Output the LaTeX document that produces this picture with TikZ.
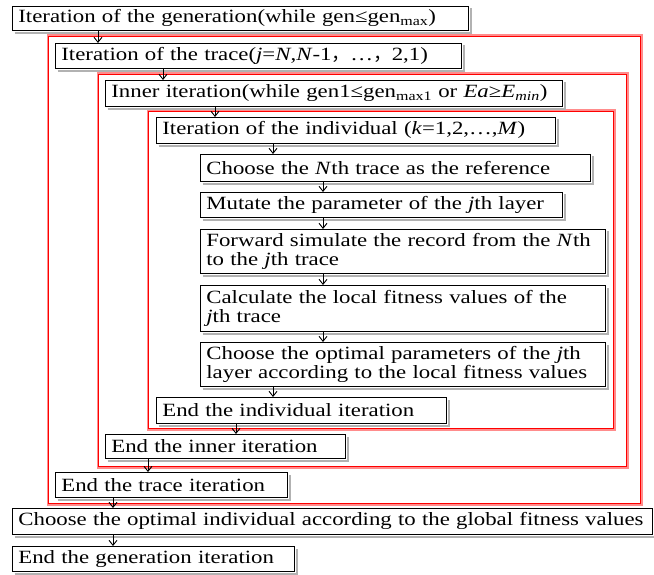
\documentclass[tikz,border=0pt]{standalone}
\usepackage{fontspec}
\setmainfont{Liberation Serif}[FakeStretch=1.22]
\newfontfamily\cjk{Noto Sans CJK SC}
\usetikzlibrary{arrows.meta}
\begin{document}
\begin{tikzpicture}[x=1pt,y=-1pt,
 box/.style={draw=black, line width=0.8pt, fill=white, anchor=north west,
   inner xsep=6pt, inner ysep=0pt, align=left,
   font=\fontsize{18.7}{18.7}\selectfont},
 shadowline/.style={draw=gray!60, line width=1.8pt},
 arr/.style={-{Straight Barb[length=5pt,width=8pt]}, line width=0.9pt},
 frameR/.style={draw=red, line width=1pt},
 frameP/.style={draw=red!45, line width=1.5pt}]
\useasboundingbox (0,0) rectangle (654,575);

% red frames
\draw[frameP] (48,35) rectangle (642,505);
\draw[frameR] (48,37) rectangle (640,503);
\draw[frameP] (98,73) rectangle (628,468);
\draw[frameR] (98,75) rectangle (626,466);
\draw[frameP] (148,110) rectangle (615,430);
\draw[frameR] (148,112) rectangle (613,428);

% boxes
\node[box, text width=444pt, minimum height=24pt] (b1) at (12,6)
  {Iteration of the generation(while gen≤gen\textsubscript{max})};
\node[box, text width=394pt, minimum height=25pt] (b2) at (55,43)
  {Iteration of the trace(\textit{j}=\textit{N},\textit{N}-1{\cjk ，}…{\cjk ，}2,1)};
\node[box, text width=445pt, minimum height=26pt] (b3) at (105,80)
  {Inner iteration(while gen1≤gen\textsubscript{max1} or \textit{Ea}≥\textit{E}\textsubscript{\textit{min}})};
\node[box, text width=387pt, minimum height=26pt] (b4) at (156,117)
  {Iteration of the individual (\textit{k}=1,2,…,\textit{M})};
\node[box, text width=378pt, minimum height=27pt] (b5) at (200,154)
  {Choose the \textit{N}th trace as the reference};
\node[box, text width=350pt, minimum height=25pt] (b6) at (200,192)
  {Mutate the parameter of the \textit{j}th layer};
\node[box, text width=393pt, minimum height=44pt] (b7) at (200,229)
  {Forward simulate the record from the \textit{N}th\\to the \textit{j}th trace};
\node[box, text width=393pt, minimum height=46pt] (b8) at (200,285)
  {Calculate the local fitness values of the\\\textit{j}th trace};
\node[box, text width=393pt, minimum height=44pt] (b9) at (200,342)
  {Choose the optimal parameters of the \textit{j}th\\layer according to the local fitness values};
\node[box, text width=278pt, minimum height=26pt] (b10) at (156,397)
  {End the individual iteration};
\node[box, text width=228pt, minimum height=24pt] (b11) at (105,434)
  {End the inner iteration};
\node[box, text width=220pt, minimum height=25pt] (b12) at (55,472)
  {End the trace iteration};
\node[box, text width=628pt, minimum height=26pt] (b13) at (12,508)
  {\mbox{Choose the optimal individual according to the global fitness values}};
\node[box, text width=270pt, minimum height=25pt] (b14) at (12,546)
  {End the generation iteration};

% box shadows
\foreach \n in {b1,b2,b3,b4,b5,b6,b7,b8,b9,b10,b11,b12,b13,b14}
  \draw[shadowline] ([xshift=2.5pt,yshift=-2.2pt]\n.south west)
     -- ([xshift=2.2pt,yshift=-2.2pt]\n.south east)
     -- ([xshift=2.2pt,yshift=-2.5pt]\n.north east);

% connectors
\draw[arr] ([xshift=86pt]b1.south west) -- ([xshift=86pt]b1.south west |- b2.north);
\draw[arr] ([xshift=108pt]b2.south west) -- ([xshift=108pt]b2.south west |- b3.north);
\draw[arr] ([xshift=110pt]b3.south west) -- ([xshift=110pt]b3.south west |- b4.north);
\draw[arr] ([xshift=117pt]b4.south west) -- ([xshift=117pt]b4.south west |- b5.north);
\draw[arr] ([xshift=123pt]b5.south west) -- ([xshift=123pt]b5.south west |- b6.north);
\draw[arr] ([xshift=123pt]b6.south west) -- ([xshift=123pt]b6.south west |- b7.north);
\draw[arr] ([xshift=123pt]b7.south west) -- ([xshift=123pt]b7.south west |- b8.north);
\draw[arr] ([xshift=123pt]b8.south west) -- ([xshift=123pt]b8.south west |- b9.north);
\draw[arr] ([xshift=73pt]b9.south west) -- ([xshift=73pt]b9.south west |- b10.north);
\draw[arr] ([xshift=80pt]b10.south west) -- ([xshift=80pt]b10.south west |- b11.north);
\draw[arr] ([xshift=43pt]b11.south west) -- ([xshift=43pt]b11.south west |- b12.north);
\draw[arr] ([xshift=58pt]b12.south west) -- ([xshift=58pt]b12.south west |- b13.north);
\draw[arr] ([xshift=101pt]b13.south west) -- ([xshift=101pt]b13.south west |- b14.north);
\end{tikzpicture}
\end{document}
